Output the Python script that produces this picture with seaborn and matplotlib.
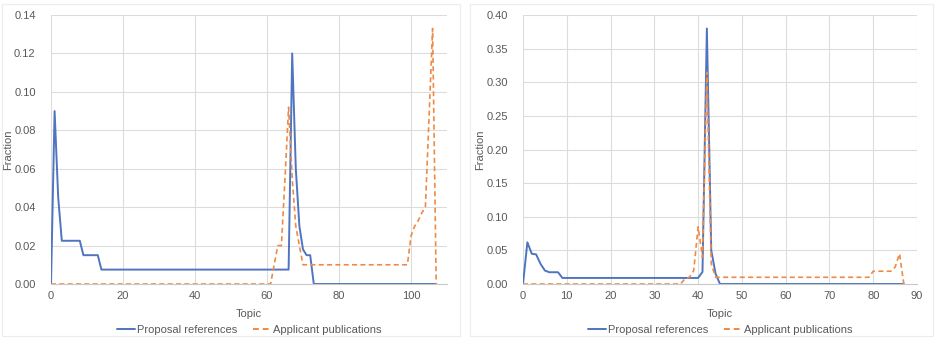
import matplotlib
matplotlib.use("Agg")
import matplotlib.pyplot as plt
import seaborn as sns
import pandas as pd
from matplotlib.patches import Rectangle

# left panel: 108 topics
left_topics = list(range(108))
left_proposal = ([0, 0.09, 0.045] + [0.0225] * 6 + [0.015] * 5 + [0.0075] * 53
                 + [0.12, 0.06, 0.03, 0.018, 0.015, 0.015] + [0] * 35)
left_applicant = ([0] * 62 + [0.01, 0.02, 0.02, 0.055, 0.092, 0.055, 0.03, 0.02]
                  + [0.01] * 30 + [0.025, 0.03, 0.033, 0.037, 0.04, 0.086, 0.133, 0])

# right panel: 88 topics
right_topics = list(range(88))
right_proposal = ([0, 0.062, 0.045, 0.044, 0.03, 0.02] + [0.0175] * 3 + [0.009] * 32
                  + [0.018, 0.38, 0.05, 0.015] + [0] * 43)
right_applicant = ([0] * 37 + [0.008, 0.01, 0.02, 0.085, 0.04, 0.315, 0.03, 0.01]
                   + [0.01] * 35 + [0.019] * 5 + [0.025, 0.045, 0])

series_names = ["Proposal references", "Applicant publications"]
blue = "#4F74C0"
orange = "#EE8A45"
text_grey = "#595959"

sns.set_theme(style="whitegrid")
plt.rcParams["font.family"] = ["Liberation Sans", "DejaVu Sans"]
plt.rcParams["font.size"] = 8

fig = plt.figure(figsize=(9.38, 3.38), dpi=100)
ax1 = fig.add_axes([51 / 938, 1 - 284 / 338, 396 / 938, 269 / 338])
ax2 = fig.add_axes([523 / 938, 1 - 284 / 338, 394 / 938, 269 / 338])

# faint panel frames
for x0, x1 in [(2, 460), (470, 933)]:
    fig.patches.append(Rectangle((x0 / 938, 2 / 338), (x1 - x0) / 938, 332 / 338,
                                 transform=fig.transFigure, fill=False,
                                 edgecolor="#ececec", linewidth=0.8))

panels = [
    (ax1, left_topics, left_proposal, left_applicant, 110, 20, 0.14, 0.02),
    (ax2, right_topics, right_proposal, right_applicant, 90, 10, 0.40, 0.05),
]

for ax, topics, prop, appl, xmax, xstep, ymax, ystep in panels:
    df = pd.DataFrame({"Topic": topics, series_names[0]: prop, series_names[1]: appl})
    long = df.melt(id_vars="Topic", var_name="series", value_name="Fraction")
    sns.lineplot(data=long, x="Topic", y="Fraction", hue="series", style="series",
                 palette=[blue, orange], dashes=[(None, None), (3, 2)],
                 ax=ax, linewidth=1.4)
    for line in ax.get_lines()[1:2]:
        line.set_linewidth(1.2)
    ax.set_xlim(0, xmax)
    ax.set_ylim(0, ymax)
    ax.set_xticks(range(0, xmax + 1, xstep))
    n = int(round(ymax / ystep))
    ax.set_yticks([i * ystep for i in range(n + 1)])
    ax.set_yticklabels([f"{i * ystep:.2f}" for i in range(n + 1)])
    ax.grid(True, color="#dcdcdc", linewidth=0.8)
    ax.set_facecolor("white")
    for side in ["top", "right", "left"]:
        ax.spines[side].set_visible(False)
    ax.spines["bottom"].set_color("#c8c8c8")
    ax.spines["bottom"].set_linewidth(0.8)
    ax.tick_params(axis="x", length=0, pad=5, labelsize=8, colors=text_grey)
    ax.tick_params(axis="y", length=0, pad=11, labelsize=8, colors=text_grey)
    ax.set_xlabel("Topic", fontsize=8, color=text_grey, labelpad=6)
    ax.set_ylabel("Fraction", fontsize=8, color=text_grey)
    ax.yaxis.set_label_coords(-0.095, 0.5)
    ax.legend(loc="center", bbox_to_anchor=(0.5, -0.17), ncol=2, frameon=False,
              fontsize=8, labelcolor=text_grey, handlelength=1.6, handletextpad=0.2,
              columnspacing=1.4, borderaxespad=0)

fig.savefig("out.png", dpi=100, facecolor="white")
